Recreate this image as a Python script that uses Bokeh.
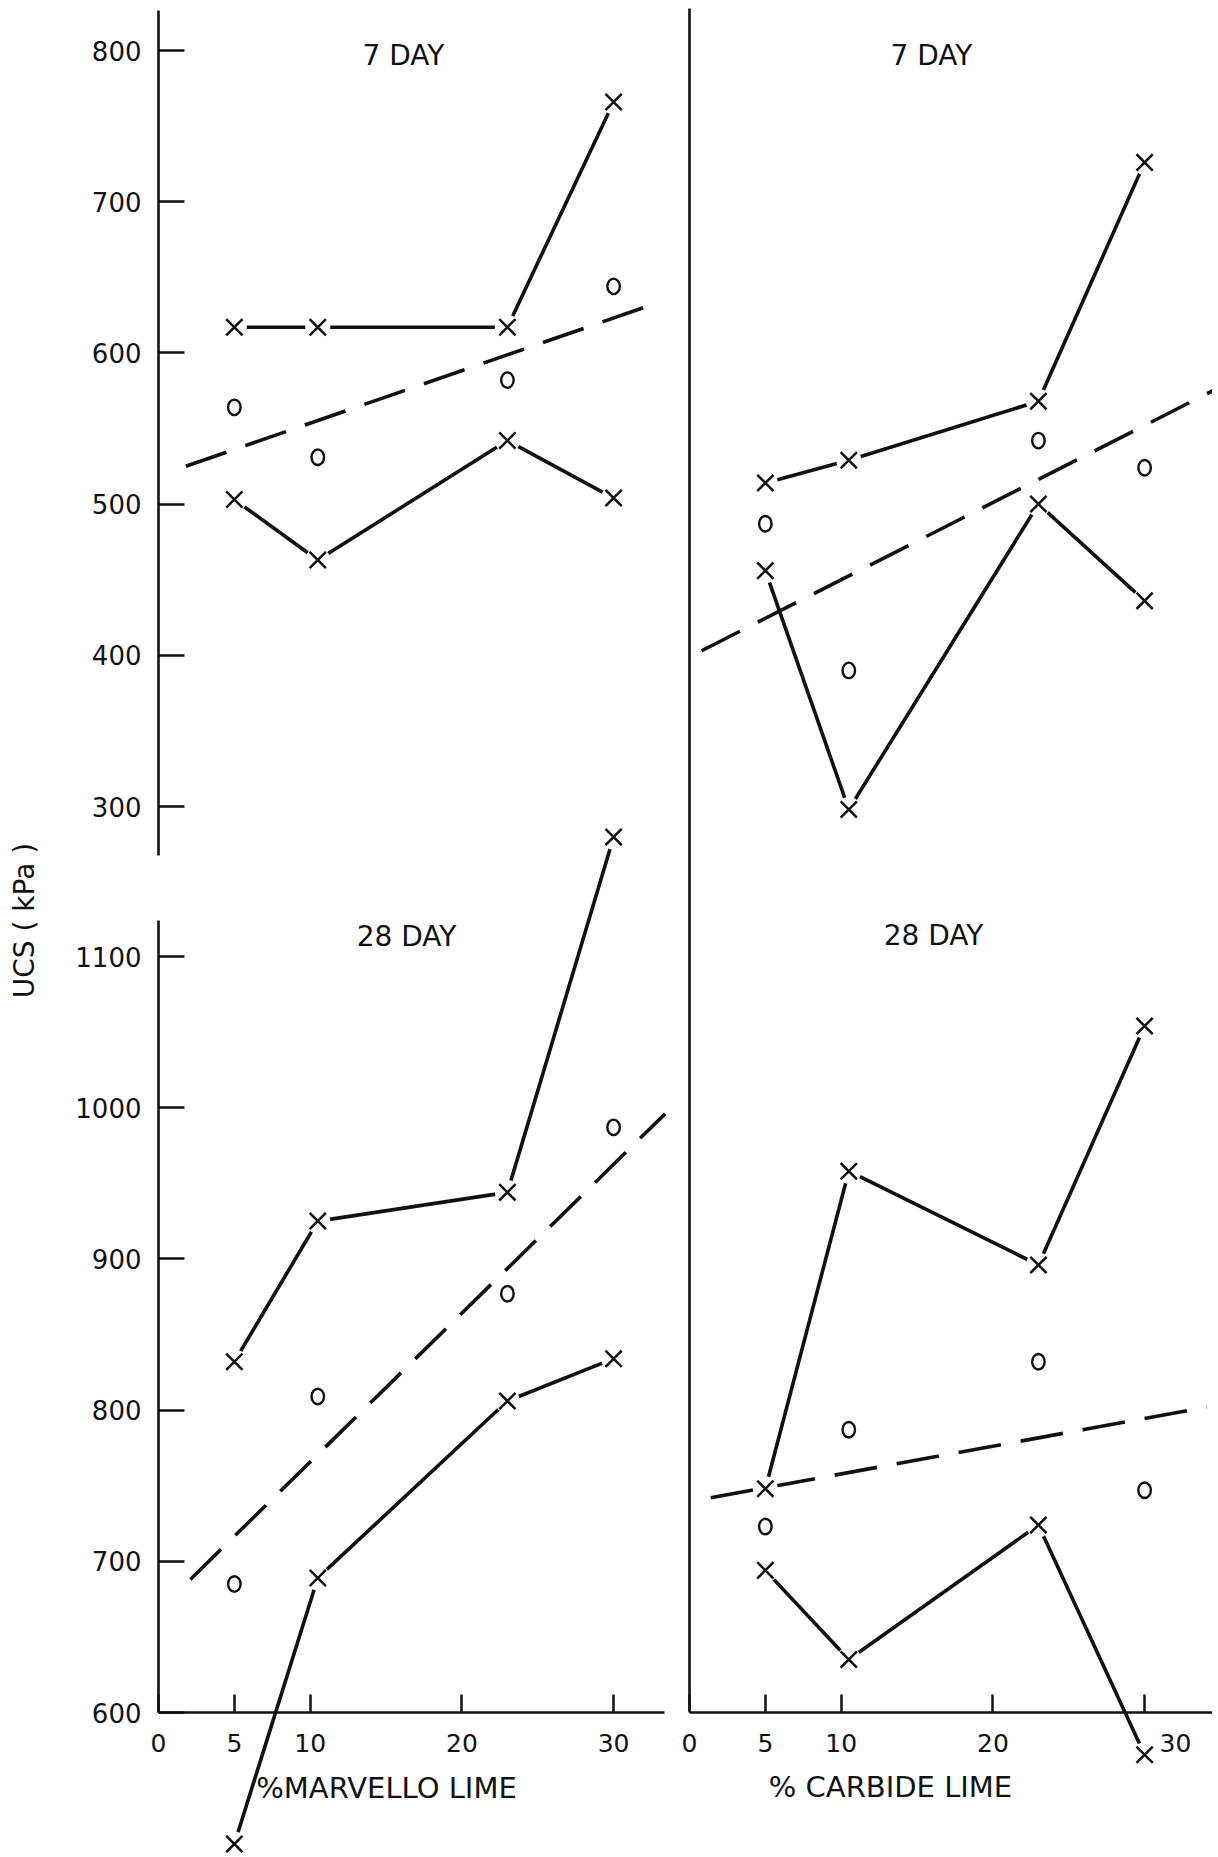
from bokeh.plotting import figure
from bokeh.models import Range1d, LinearAxis, FixedTicker, Label
from bokeh.embed import file_html
from bokeh.resources import INLINE

# ---------------- data ----------------
lime_pct = [5, 10.5, 23, 30]
x_ticks = [0, 5, 10, 20, 30]
ucs_ticks_7day = [300, 400, 500, 600, 700, 800]
ucs_ticks_28day = [600, 700, 800, 900, 1000, 1100]

marvello_7_max = [617, 617, 617, 766]
marvello_7_mean = [564, 531, 582, 644]
marvello_7_min = [503, 463, 542, 504]
marvello_7_trend_x = [1.8, 32.0]
marvello_7_trend_y = [525, 630]

carbide_7_max = [514, 529, 568, 726]
carbide_7_mean = [487, 390, 542, 524]
carbide_7_min = [456, 298, 500, 436]
carbide_7_trend_x = [0.8, 34.5]
carbide_7_trend_y = [403, 575]

marvello_28_max = [832, 925, 944, 1179]
marvello_28_mean = [685, 809, 877, 987]
marvello_28_min = [513, 689, 806, 834]
marvello_28_trend_x = [2.1, 33.4]
marvello_28_trend_y = [688, 996]

carbide_28_max = [748, 958, 896, 1054]
carbide_28_mean = [723, 787, 832, 747]
carbide_28_min = [694, 635, 724, 572]
carbide_28_trend_x = [1.4, 34.1]
carbide_28_trend_y = [742, 802]

# ---------------- layout (page pixels) ----------------
W, H = 1212, 1853
OFF = 0
PX_PER_PCT = 15.17
PX_PER_KPA = 1.512
LEFT_ZERO_PX = 158
RIGHT_ZERO_PX = 689
TOP_800_PX = 50
BOT_1100_PX = 956

INK = "#111111"
FONT = "DejaVu Sans"


def x_span(zero_px):
    return Range1d((OFF - zero_px) / PX_PER_PCT, (OFF + W - zero_px) / PX_PER_PCT)


def y_span(ref_val, ref_px):
    end = ref_val + (ref_px - OFF) / PX_PER_KPA
    return Range1d(end - H / PX_PER_KPA, end)


left_x = x_span(LEFT_ZERO_PX)
right_x = x_span(RIGHT_ZERO_PX)
top_y = y_span(800, TOP_800_PX)
bot_y = y_span(1100, BOT_1100_PX)


def xv(rng, px):
    return rng.start + (px - OFF) / PX_PER_PCT


def yv(rng, py):
    return rng.end - (py - OFF) / PX_PER_KPA


p = figure(width=W, height=H, x_range=left_x, y_range=top_y,
           output_backend="svg", toolbar_location=None,
           x_axis_location=None, y_axis_location=None,
           min_border=0, outline_line_color=None,
           background_fill_color="white", border_fill_color="white")
p.extra_x_ranges = {"r": right_x}
p.extra_y_ranges = {"b": bot_y}
p.grid.visible = False

panels = [
    ("default", "default", marvello_7_max, marvello_7_mean, marvello_7_min, marvello_7_trend_x, marvello_7_trend_y),
    ("r", "default", carbide_7_max, carbide_7_mean, carbide_7_min, carbide_7_trend_x, carbide_7_trend_y),
    ("default", "b", marvello_28_max, marvello_28_mean, marvello_28_min, marvello_28_trend_x, marvello_28_trend_y),
    ("r", "b", carbide_28_max, carbide_28_mean, carbide_28_min, carbide_28_trend_x, carbide_28_trend_y),
]

for xr, yr, vmax, vmean, vmin, tx, ty in panels:
    kw = dict(x_range_name=xr, y_range_name=yr)
    p.line(tx, ty, line_color=INK, line_width=3.6, line_dash="43 20", **kw)
    p.line(lime_pct, vmax, line_color=INK, line_width=3.6, **kw)
    p.line(lime_pct, vmin, line_color=INK, line_width=3.6, **kw)
    # white halo that leaves the hand-drawn gap round each X
    p.scatter(lime_pct + lime_pct, vmax + vmin, marker="circle", size=25,
              fill_color="white", line_color=None, **kw)
    p.scatter(lime_pct + lime_pct, vmax + vmin, marker="x", size=23,
              line_color=INK, line_width=2.5, **kw)
    p.ellipse(lime_pct, vmean, width=12.5, height=15.5,
              width_units="screen", height_units="screen",
              fill_color=None, line_color=INK, line_width=2.4, **kw)


def style_axis(ax, tick_in, label_size, standoff):
    ax.axis_line_color = INK
    ax.axis_line_width = 2.6
    ax.major_tick_line_color = INK
    ax.major_tick_line_width = 2.5
    ax.major_tick_in = tick_in
    ax.major_tick_out = 0
    ax.minor_tick_in = 0
    ax.minor_tick_out = 0
    ax.major_label_text_font = FONT
    ax.major_label_text_font_size = label_size
    ax.major_label_text_color = INK
    ax.major_label_standoff = standoff


# left column vertical axes (two pieces)
ax_l7 = LinearAxis(ticker=FixedTicker(ticks=ucs_ticks_7day), fixed_location=0,
                   bounds=(yv(top_y, 855), yv(top_y, 10)))
style_axis(ax_l7, 26, "26px", 17)
p.add_layout(ax_l7, "left")

ax_l28 = LinearAxis(ticker=FixedTicker(ticks=ucs_ticks_28day), fixed_location=0,
                    y_range_name="b", bounds=(600, yv(bot_y, 920)))
style_axis(ax_l28, 26, "26px", 17)
p.add_layout(ax_l28, "left")

# right column vertical line
ax_r = LinearAxis(ticker=FixedTicker(ticks=[]), fixed_location=0, x_range_name="r",
                  bounds=(yv(top_y, 1710), yv(top_y, 8)))
style_axis(ax_r, 0, "0px", 0)
p.add_layout(ax_r, "left")

# horizontal axes
ax_bl = LinearAxis(ticker=FixedTicker(ticks=x_ticks), fixed_location=600,
                   y_range_name="b", bounds=(0, xv(left_x, 664)))
style_axis(ax_bl, 18, "25px", 21)
p.add_layout(ax_bl, "below")

ax_br = LinearAxis(ticker=FixedTicker(ticks=x_ticks), fixed_location=600,
                   x_range_name="r", y_range_name="b", bounds=(0, right_x.end),
                   major_label_overrides={30: ""})
style_axis(ax_br, 18, "25px", 21)
p.add_layout(ax_br, "below")


def add_text(text, xr_name, xr, px, yr_name, yr, py, size, angle=0):
    p.add_layout(Label(x=xv(xr, px), y=yv(yr, py), x_range_name=xr_name, y_range_name=yr_name,
                       text=text, text_align="center", text_baseline="middle",
                       text_font=FONT, text_font_size=size, text_color=INK,
                       angle=angle, angle_units="deg"))


add_text("7 DAY", "default", left_x, 403, "default", top_y, 55, "28px")
add_text("7 DAY", "r", right_x, 931, "default", top_y, 55, "28px")
add_text("28 DAY", "default", left_x, 406, "b", bot_y, 936, "28px")
add_text("28 DAY", "r", right_x, 933, "b", bot_y, 935, "28px")
add_text("%MARVELLO LIME", "default", left_x, 386, "b", bot_y, 1787, "29px")
add_text("% CARBIDE LIME", "r", right_x, 890, "b", bot_y, 1786, "29px")
add_text("30", "r", right_x, 1175, "b", bot_y, 1742, "25px")
add_text("UCS ( kPa )", "default", left_x, 24, "default", top_y, 920, "28px", angle=90)

open("out.html", "w").write(file_html(p, INLINE))
